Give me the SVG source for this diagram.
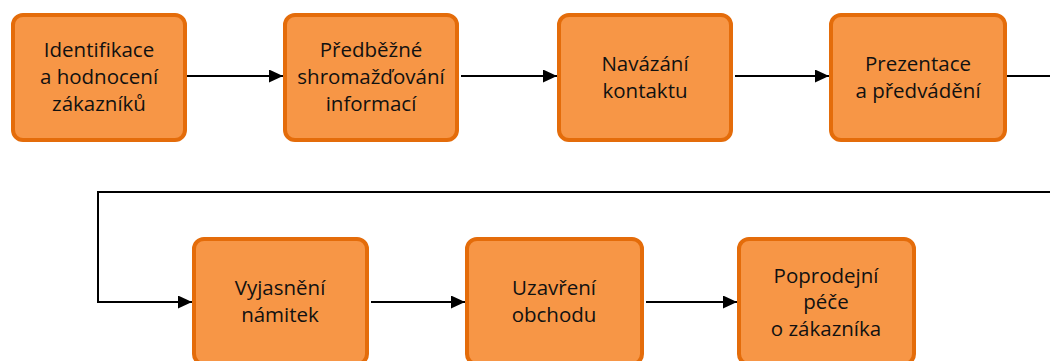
<svg xmlns="http://www.w3.org/2000/svg" width="1050" height="361" viewBox="0 0 1050 361">
<style>
.box{fill:#F79646;stroke:#E46C0A;stroke-width:4}
.t{font-family:"Open Sans","Liberation Sans",sans-serif;font-size:20.5px;fill:#111;text-anchor:middle}
.c{fill:none;stroke:#000;stroke-width:2}
</style>
<defs>
<marker id="ah" viewBox="0 0 14 13" refX="14" refY="6.5" markerWidth="14" markerHeight="13" markerUnits="userSpaceOnUse" orient="auto">
<path d="M0,0 L14,6.5 L0,13 z" fill="#000"/>
</marker>
</defs>
<g id="connectors">
<path class="c" d="M187,76 H283" marker-end="url(#ah)"/>
<path class="c" d="M461,76 H557" marker-end="url(#ah)"/>
<path class="c" d="M735,76 H829" marker-end="url(#ah)"/>
<path class="c" d="M1007,76 H1060 V192 H98 V302 H192" marker-end="url(#ah)"/>
<path class="c" d="M371,302 H465" marker-end="url(#ah)"/>
<path class="c" d="M646,302 H737" marker-end="url(#ah)"/>
</g>
<g id="n1"><rect class="box" x="13" y="15" width="172" height="125" rx="10"/>
<text class="t"><tspan x="99" y="57">Identifikace</tspan><tspan x="99" y="84">a hodnocení</tspan><tspan x="99" y="111">zákazníků</tspan></text></g>
<g id="n2"><rect class="box" x="285" y="15" width="172" height="125" rx="10"/>
<text class="t"><tspan x="371" y="57">Předběžné</tspan><tspan x="371" y="84">shromažďování</tspan><tspan x="371" y="111">informací</tspan></text></g>
<g id="n3"><rect class="box" x="559" y="15" width="172" height="125" rx="10"/>
<text class="t"><tspan x="645" y="71">Navázání</tspan><tspan x="645" y="98">kontaktu</tspan></text></g>
<g id="n4"><rect class="box" x="831" y="15" width="174" height="125" rx="10"/>
<text class="t"><tspan x="918" y="71">Prezentace</tspan><tspan x="918" y="98">a předvádění</tspan></text></g>
<g id="n5"><rect class="box" x="194" y="239" width="173" height="125" rx="10"/>
<text class="t"><tspan x="280" y="295">Vyjasnění</tspan><tspan x="280" y="322">námitek</tspan></text></g>
<g id="n6"><rect class="box" x="467" y="239" width="175" height="125" rx="10"/>
<text class="t"><tspan x="554" y="295">Uzavření</tspan><tspan x="554" y="322">obchodu</tspan></text></g>
<g id="n7"><rect class="box" x="739" y="239" width="175" height="125" rx="10"/>
<text class="t"><tspan x="826" y="283">Poprodejní</tspan><tspan x="826" y="309">péče</tspan><tspan x="826" y="336">o zákazníka</tspan></text></g>
</svg>
